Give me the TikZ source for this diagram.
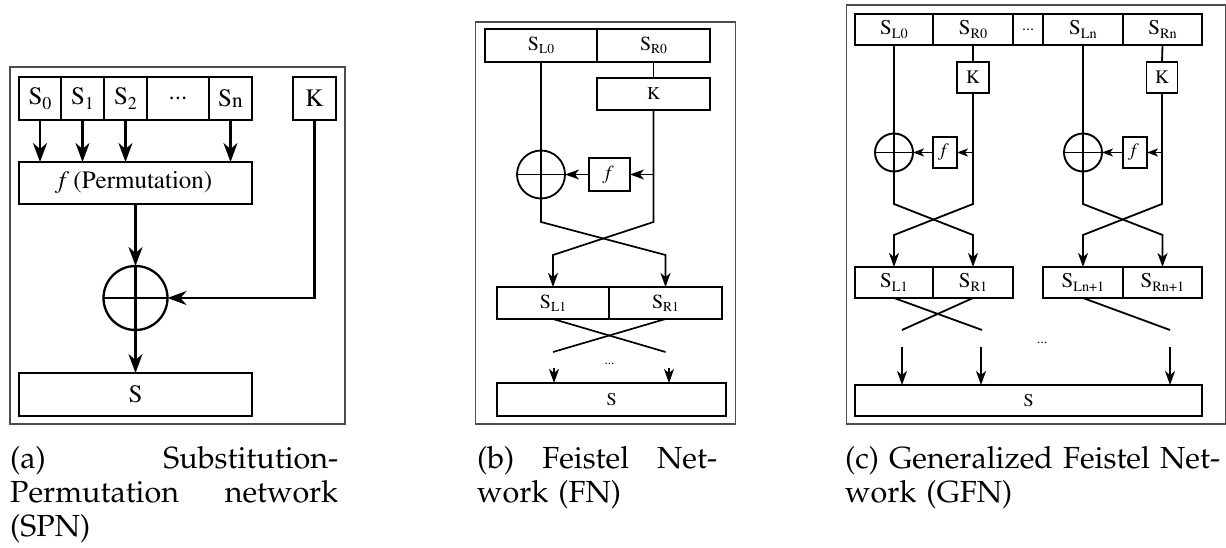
\documentclass[tikz,border=0pt]{standalone}
\usepackage[T1]{fontenc}
\usepackage{graphicx}
\usetikzlibrary{arrows.meta}
% Times for the block labels, Palatino for the sub-captions
\newcommand\tms{\fontfamily{ptm}\selectfont}
\newcommand\pal{\fontfamily{ppl}\selectfont}
\newcommand\Ssub[1]{S\raisebox{-0.17em}{\scalebox{0.68}{#1}}}
\begin{document}
\begin{tikzpicture}[x=1pt,y=-1pt,
  frame/.style={draw=black!70,line width=1.1pt},
  captext/.style={inner sep=0pt,font=\pal\fontsize{30.5}{34}\selectfont},
  % panel (a)
  boxA/.style={draw,line width=2.3pt,inner sep=0pt,outer sep=0pt,font=\tms\fontsize{25}{25}\selectfont},
  wA/.style={line width=2.3pt},
  tipA/.style={-{Stealth[length=19pt,width=14pt,inset=6pt]}},
  % panel (b)
  boxB/.style={draw,line width=1.8pt,inner sep=0pt,outer sep=0pt,font=\tms\fontsize{20}{20}\selectfont},
  wB/.style={line width=1.7pt},
  tipB/.style={-{Stealth[length=14pt,width=10pt,inset=4pt]}},
  % panel (c)
  boxC/.style={draw,line width=1.9pt,inner sep=0pt,outer sep=0pt,font=\tms\fontsize{21}{21}\selectfont},
  wC/.style={line width=1.8pt},
  tipC/.style={-{Stealth[length=14pt,width=10pt,inset=4pt]}},
  tipCs/.style={-{Stealth[length=11pt,width=8pt,inset=3pt]}},
]
\useasboundingbox (0,0) rectangle (1226,548);

% ---------------- (a) SPN ----------------
\draw[frame] (10,67) rectangle (345,424);
\node[boxA,minimum width=42pt,minimum height=43pt] (s0) at (40,98.5) {S\raisebox{-0.17em}{\scalebox{0.72}{0}}};
\node[boxA,minimum width=43pt,minimum height=43pt] (s1) at (82.5,98.5) {S\raisebox{-0.17em}{\scalebox{0.72}{1}}};
\node[boxA,minimum width=43pt,minimum height=43pt] (s2) at (125.5,98.5) {S\raisebox{-0.17em}{\scalebox{0.72}{2}}};
\node[boxA,minimum width=62pt,minimum height=43pt] (sd) at (178,98.5) {...};
\node[boxA,minimum width=43pt,minimum height=43pt] (sn) at (230.5,98.5) {S\raisebox{-0.05em}{\scalebox{0.85}{n}}};
\node[boxA,minimum width=43pt,minimum height=43pt] (ka) at (314.5,98.5) {K};
\node[boxA,minimum width=233pt,minimum height=42pt] (fa) at (135.5,183) {\textit{f}\,(Permutation)};
\node[boxA,circle,minimum size=64pt] (xa) at (135.5,298) {};
\draw[wA] (xa.north) -- (xa.south) (xa.west) -- (xa.east);
\node[boxA,minimum width=233pt,minimum height=43pt] (sa) at (135.5,394.5) {S};
\foreach \c in {s0,s1,s2,sn}
  \draw[wA,tipA] (\c.south) -- (\c.south |- fa.north);
\draw[wA,tipA] (fa.south) -- (xa.north);
\draw[wA,tipA] (ka.south) |- (xa.east);
\draw[wA,tipA] (xa.south) -- (sa.north);
\node[captext,text width=328pt,anchor=base west] (capa) at (10,468)
  {(a)\hfill Substitution-\\Permutation\hfill network\\(SPN)};

% ---------------- (b) FN ----------------
\draw[frame] (475.5,22) rectangle (735.5,424);
\node[boxB,minimum width=112pt,minimum height=33pt] (sl0) at (541,45.5) {\Ssub{L0}};
\node[boxB,minimum width=113pt,minimum height=33pt] (sr0) at (653.5,45.5) {\Ssub{R0}};
\node[boxB,minimum width=113pt,minimum height=32pt,font=\tms\fontsize{18}{18}\selectfont] (kb) at (653.5,94) {K};
\node[boxB,circle,minimum size=48pt] (xb) at (541,174.5) {};
\draw[wB] (xb.north) -- (xb.south) (xb.west) -- (xb.east);
\node[boxB,minimum width=41pt,minimum height=33pt] (fb) at (609.5,174.5) {\textit{f}};
\node[boxB,minimum width=112pt,minimum height=32pt] (sl1) at (553,303) {\Ssub{L1}};
\node[boxB,minimum width=113pt,minimum height=32pt] (sr1) at (665.5,303) {\Ssub{R1}};
\node[boxB,minimum width=229pt,minimum height=33pt,font=\tms\fontsize{18}{18}\selectfont] (sb) at (611.5,399.5) {S};
\coordinate (bl1) at (541,222);
\coordinate (bl2) at (665.5,255);
\coordinate (br1) at (653.5,222);
\coordinate (br2) at (553,255);
\draw[wB,tipB] (sl0.south) -- (bl1) -- (bl2) -- (sr1.north);
\draw[wB] (sr0.south) -- (kb.north);
\draw[wB,tipB] (kb.south) -- (br1) -- (br2) -- (sl1.north);
\draw[wB,tipB] (kb.south |- fb.east) -- (fb.east);
\draw[wB,tipB] (fb.west) -- (xb.east);
\coordinate (bc1) at (665.5,352);
\coordinate (bc2) at (553,352);
\draw[wB] (sl1.south) -- (bc1);
\draw[wB] (sr1.south) -- (bc2);
\node[font=\tms\fontsize{13}{13}\selectfont,anchor=base] (dotsb) at (609.5,364) {...};
\coordinate (ab1) at (554,368);
\coordinate (ab2) at (669,368);
\draw[wB,tipB] (ab1) -- (ab1 |- sb.north);
\draw[wB,tipB] (ab2) -- (ab2 |- sb.north);
\node[captext,text width=240pt,anchor=base west] (capb) at (477,468)
  {(b)\hfill Feistel\hfill Net-\\work (FN)};

% ---------------- (c) GFN ----------------
\draw[frame] (846.5,5) rectangle (1225.4,424);
\node[boxC,minimum width=78pt,minimum height=31pt] (cl0) at (894,29.5) {\Ssub{L0}};
\node[boxC,minimum width=80pt,minimum height=31pt] (cr0) at (973,29.5) {\Ssub{R0}};
\node[boxC,minimum width=30pt,minimum height=31pt,font=\tms\fontsize{16}{16}\selectfont] (cdt) at (1028,29.5) {...};
\node[boxC,minimum width=80pt,minimum height=31pt] (cln) at (1083,29.5) {\Ssub{Ln}};
\node[boxC,minimum width=79pt,minimum height=31pt] (crn) at (1162.5,29.5) {\Ssub{Rn}};
\node[boxC,minimum width=32pt,minimum height=31pt,font=\tms\fontsize{19}{19}\selectfont] (kc1) at (973,77.5) {K};
\node[boxC,minimum width=31pt,minimum height=31pt,font=\tms\fontsize{19}{19}\selectfont] (kc2) at (1162,77.5) {K};
\node[boxC,circle,minimum size=38pt] (xc1) at (894,152.5) {};
\node[boxC,circle,minimum size=38pt] (xc2) at (1083,152.5) {};
\draw[wC] (xc1.north) -- (xc1.south) (xc1.west) -- (xc1.east);
\draw[wC] (xc2.north) -- (xc2.south) (xc2.west) -- (xc2.east);
\node[boxC,minimum width=24pt,minimum height=31pt,font=\tms\fontsize{19}{19}\selectfont] (fc1) at (945,152.5) {\textit{f}};
\node[boxC,minimum width=24pt,minimum height=31pt,font=\tms\fontsize{19}{19}\selectfont] (fc2) at (1135,152.5) {\textit{f}};
\node[boxC,minimum width=78pt,minimum height=31pt] (cl1) at (894,282.5) {\Ssub{L1}};
\node[boxC,minimum width=80pt,minimum height=31pt] (cr1) at (973,282.5) {\Ssub{R1}};
\node[boxC,minimum width=80pt,minimum height=31pt] (cln1) at (1083,282.5) {\Ssub{Ln+1}};
\node[boxC,minimum width=79pt,minimum height=31pt] (crn1) at (1162.5,282.5) {\Ssub{Rn+1}};
\node[boxC,minimum width=347pt,minimum height=31pt,font=\tms\fontsize{18}{18}\selectfont] (sc) at (1028.5,400.5) {S};
% first round
\coordinate (cp1) at (894,204);
\coordinate (cp2) at (973,235);
\coordinate (cq1) at (973,204);
\coordinate (cq2) at (894,235);
\draw[wC,tipC] (cl0.south) -- (cp1) -- (cp2) -- (cr1.north);
\draw[wC] (cr0.south) -- (kc1.north);
\draw[wC,tipC] (kc1.south) -- (cq1) -- (cq2) -- (cl1.north);
\draw[wC,tipCs] (kc1.south |- fc1.east) -- (fc1.east);
\draw[wC,tipCs] (fc1.west) -- (xc1.east);
% last round
\coordinate (cu1) at (1083,204);
\coordinate (cu2) at (1162.5,235);
\coordinate (cv1) at (1162,204);
\coordinate (cv2) at (1083,235);
\draw[wC,tipC] (cln.south) -- (cu1) -- (cu2) -- (crn1.north);
\draw[wC] (crn.south) -- (kc2.north);
\draw[wC,tipC] (kc2.south) -- (cv1) -- (cv2) -- (cln1.north);
\draw[wC,tipCs] (kc2.south |- fc2.east) -- (fc2.east);
\draw[wC,tipCs] (fc2.west) -- (xc2.east);
% output permutation
\coordinate (cw1) at (982,330);
\coordinate (cw2) at (902,330);
\coordinate (cw3) at (1170,330);
\draw[wC] (cl1.south) -- (cw1);
\draw[wC] (cr1.south) -- (cw2);
\draw[wC] (cln1.south) -- (cw3);
\node[font=\tms\fontsize{14}{14}\selectfont,anchor=base] (dotsc) at (1042,343) {...};
\coordinate (ac1) at (902,347);
\coordinate (ac2) at (981,347);
\coordinate (ac3) at (1170,347);
\draw[wC,tipC] (ac1) -- (ac1 |- sc.north);
\draw[wC,tipC] (ac2) -- (ac2 |- sc.north);
\draw[wC,tipC] (ac3) -- (ac3 |- sc.north);
\node[captext,text width=380pt,anchor=base west] (capc) at (845,468)
  {(c) Generalized Feistel Net-\\work (GFN)};
\end{tikzpicture}
\end{document}
